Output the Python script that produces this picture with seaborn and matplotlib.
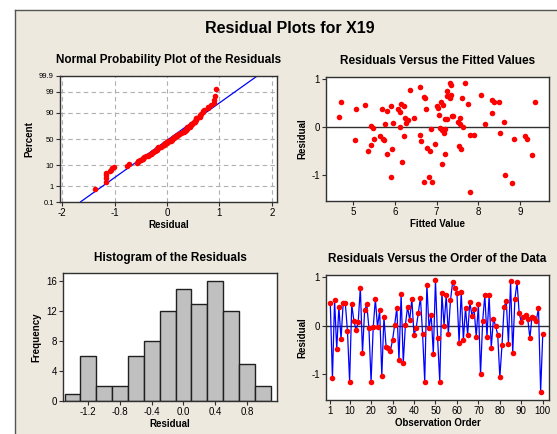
import matplotlib
matplotlib.use("Agg")
import numpy as np
import pandas as pd
import seaborn as sns
import matplotlib.pyplot as plt
from statistics import NormalDist

# residuals in observation order
residuals = [0.47, -1.09, 0.53, -0.49, 0.39, -0.28, 0.46, 0.46, -0.11, -1.16,
             0.44, 0.10, -0.09, 0.07, 0.79, -0.56, 0.32, 0.44, -0.05, -1.16,
             -0.03, 0.55, -0.03, 0.32, -1.04, 0.18, -0.44, -0.46, -0.52, -0.30,
             0.02, 0.37, -0.72, 0.65, -0.77, 0.02, 0.39, 0.12, 0.55, -0.19,
             -0.05, 0.26, 0.58, -0.17, -1.16, 0.85, -0.05, 0.23, -0.58, 0.94,
             -0.26, -1.16, 0.68, 0.00, 0.63, -0.17, 0.53, 0.90, 0.79, 0.68,
             -0.35, 0.70, -0.30, 0.37, -0.19, 0.49, 0.21, 0.34, -0.23, 0.44,
             -1.01, 0.10, 0.63, -0.23, 0.63, -0.46, 0.14, 0.00, -0.19, -1.07,
             -0.40, 0.39, 0.51, -0.37, 0.92, -0.56, 0.55, 0.90, 0.26, 0.08,
             0.19, 0.23, 0.14, -0.26, 0.19, 0.16, 0.10, 0.37, -1.37, -0.17]
observation = list(range(1, len(residuals) + 1))

# fitted value / residual pairs
fitted_x = [4.65, 4.71, 5.03, 5.07, 5.28, 5.34, 5.42, 5.41, 5.47, 5.49,
            5.64, 5.69, 5.70, 5.74, 5.77, 5.81, 5.80, 5.90, 5.90, 5.92,
            5.95, 6.06, 6.11, 6.14, 6.13, 6.16, 6.21, 6.22, 6.25, 6.26,
            6.30, 6.37, 6.46, 6.59, 6.60, 6.63, 6.69, 6.73, 6.70, 6.75,
            6.77, 6.81, 6.85, 6.86, 6.89, 6.96, 7.00, 7.04, 7.06, 7.09,
            7.10, 7.13, 7.12, 7.15, 7.17, 7.19, 7.20, 7.21, 7.26, 7.26,
            7.26, 7.31, 7.33, 7.34, 7.35, 7.38, 7.40, 7.51, 7.53, 7.55,
            7.56, 7.58, 7.62, 7.63, 7.68, 7.75, 7.80, 7.79, 7.89, 8.06,
            8.17, 8.32, 8.34, 8.38, 8.50, 8.53, 8.62, 8.65, 8.80, 8.87,
            9.13, 9.18, 9.30, 9.37]
fitted_resid = [0.20, 0.53, -0.28, 0.37, 0.46, -0.50, -0.38, 0.02, -0.03, -0.24,
                -0.19, 0.37, -0.24, -0.28, 0.06, 0.34, -0.57, 0.44, -1.05, -0.46,
                0.09, 0.37, 0.32, 0.48, 0.00, -0.72, 0.44, -0.19, 0.18, 0.09,
                0.14, 0.76, 0.18, 0.84, -0.17, -0.30, 0.62, 0.60, -1.14, 0.37,
                -0.44, -1.05, -0.51, -0.05, -1.14, -0.35, 0.43, 0.40, 0.25, -0.03,
                0.53, -0.07, -0.77, 0.46, -0.12, -0.05, 0.16, -0.56, 0.75, 0.65,
                0.16, 0.92, 0.60, 0.67, 0.87, 0.23, 0.23, 0.11, -0.39, 0.18,
                0.06, -0.46, 0.60, 0.00, 0.92, 0.48, -1.36, -0.17, -0.17, 0.66,
                0.06, 0.30, 0.56, 0.53, 0.51, -0.12, 0.11, -1.00, -1.17, -0.24,
                -0.19, -0.26, -0.58, 0.53]

# histogram bins (centres) and counts
hist_centers = [-1.4, -1.2, -1.0, -0.8, -0.6, -0.4, -0.2, 0.0, 0.2, 0.4, 0.6, 0.8, 1.0]
hist_counts = [1, 6, 2, 2, 6, 8, 12, 15, 13, 16, 12, 5, 2]
hist_edges = [-1.5, -1.3, -1.1, -0.9, -0.7, -0.5, -0.3, -0.1, 0.1, 0.3, 0.5, 0.7, 0.9, 1.1]

prob_ticks = [0.1, 1, 10, 50, 90, 99, 99.9]

BG = "#EDE9DF"
RED = "#FF0000"
BLUE = "#0000FF"
FONT = ["Liberation Sans", "DejaVu Sans"]

sns.set_style("white")
plt.rcParams['font.family'] = FONT
plt.rcParams['axes.edgecolor'] = "#303030"
plt.rcParams['axes.linewidth'] = 1.0
plt.rcParams['xtick.bottom'] = True
plt.rcParams['ytick.left'] = True
plt.rcParams['text.color'] = "black"
plt.rcParams['axes.labelcolor'] = "black"
plt.rcParams['xtick.color'] = "black"
plt.rcParams['ytick.color'] = "black"
plt.rcParams['axes.unicode_minus'] = False

fig = plt.figure(figsize=(5.57, 4.34), dpi=100, facecolor="white")
# beige panel with dark top/left border
bg = fig.add_axes([15 / 557, 0, 1 - 15 / 557, 1 - 10 / 434])
bg.set_facecolor(BG)
bg.set_xticks([])
bg.set_yticks([])
for side in ["right", "bottom"]:
    bg.spines[side].set_visible(False)
bg.spines["top"].set_color("#555555")
bg.spines["left"].set_color("#555555")

fig.text(0.52, 0.935, "Residual Plots for X19", ha="center", va="center",
         fontsize=11.5, fontweight="bold")


def style_axis(ax, title, xlabel, ylabel):
    ax.set_title(title, fontsize=8.5, fontweight="bold", pad=9)
    ax.set_xlabel(xlabel, fontsize=7, fontweight="bold", labelpad=1)
    ax.set_ylabel(ylabel, fontsize=7, fontweight="bold", labelpad=3)
    ax.tick_params(labelsize=7, length=3, width=0.8, pad=1.5, color="#303030")
    ax.set_facecolor("white")


# ---- normal probability plot
ax1 = fig.add_axes([60 / 557, (434 - 202) / 434, 217 / 557, 126 / 434])
nd = NormalDist()
res_sorted = np.sort(residuals)
n = len(res_sorted)
z_pts = [nd.inv_cdf((i - 0.3) / (n + 0.4)) for i in range(1, n + 1)]
mu, sd = np.mean(residuals), np.std(residuals, ddof=1)
z_lim = nd.inv_cdf(prob_ticks[0] / 100)
line_df = pd.DataFrame({"x": [mu + sd * z_lim, mu - sd * z_lim], "z": [z_lim, -z_lim]})
sns.lineplot(data=line_df, x="x", y="z", color=BLUE, lw=0.9, ax=ax1)
sns.scatterplot(x=res_sorted, y=z_pts, color=RED, s=16, linewidth=0, ax=ax1, zorder=3)
ax1.set_yticks([nd.inv_cdf(t / 100) for t in prob_ticks])
ax1.set_yticklabels([str(t) for t in prob_ticks], fontsize=5.5)
ax1.set_ylim(z_lim, -z_lim)
ax1.set_xticks([-2, -1, 0, 1, 2])
ax1.set_xlim(-2.04, 2.1)
ax1.grid(True, color="#B0B0B0", linestyle=(0, (4, 3)), linewidth=0.8)
ax1.set_axisbelow(True)
style_axis(ax1, "Normal Probability Plot of the Residuals", "Residual", "Percent")
ax1.tick_params(axis="y", labelsize=5.5)

# ---- residuals vs fitted
ax2 = fig.add_axes([326 / 557, (434 - 201) / 434, 223 / 557, 124 / 434])
ax2.axhline(0, color="#303030", lw=1)
sns.scatterplot(x=fitted_x, y=fitted_resid, color=RED, s=16, linewidth=0, ax=ax2, zorder=3)
ax2.set_xlim(4.34, 9.7)
ax2.set_ylim(-1.54, 1.04)
ax2.set_xticks([5, 6, 7, 8, 9])
ax2.set_yticks([-1, 0, 1])
style_axis(ax2, "Residuals Versus the Fitted Values", "Fitted Value", "Residual")

# ---- histogram
ax3 = fig.add_axes([63 / 557, (434 - 401) / 434, 214 / 557, 128 / 434])
hist_values = np.repeat(hist_centers, hist_counts)
sns.histplot(x=hist_values, bins=hist_edges, color="#C0C0C0",
             edgecolor="#202020", linewidth=1, alpha=1, ax=ax3)
ax3.set_xlim(-1.52, 1.18)
ax3.set_ylim(0, 17.1)
ax3.set_xticks([-1.2, -0.8, -0.4, 0.0, 0.4, 0.8])
ax3.set_xticklabels(["-1.2", "-0.8", "-0.4", "0.0", "0.4", "0.8"])
ax3.set_yticks([0, 4, 8, 12, 16])
style_axis(ax3, "Histogram of the Residuals", "Residual", "Frequency")

# ---- residuals vs order
ax4 = fig.add_axes([326 / 557, (434 - 400) / 434, 223 / 557, 125 / 434])
ax4.axhline(0, color="#303030", lw=1)
sns.lineplot(x=observation, y=residuals, color=BLUE, lw=0.9, ax=ax4)
sns.scatterplot(x=observation, y=residuals, color=RED, s=16, linewidth=0, ax=ax4, zorder=3)
ax4.set_xlim(-1.0, 102.9)
ax4.set_ylim(-1.54, 1.05)
ax4.set_xticks([1] + list(range(10, 101, 10)))
ax4.set_yticks([-1, 0, 1])
style_axis(ax4, "Residuals Versus the Order of the Data", "Observation Order", "Residual")

fig.savefig("out.png", dpi=100, facecolor="white")
